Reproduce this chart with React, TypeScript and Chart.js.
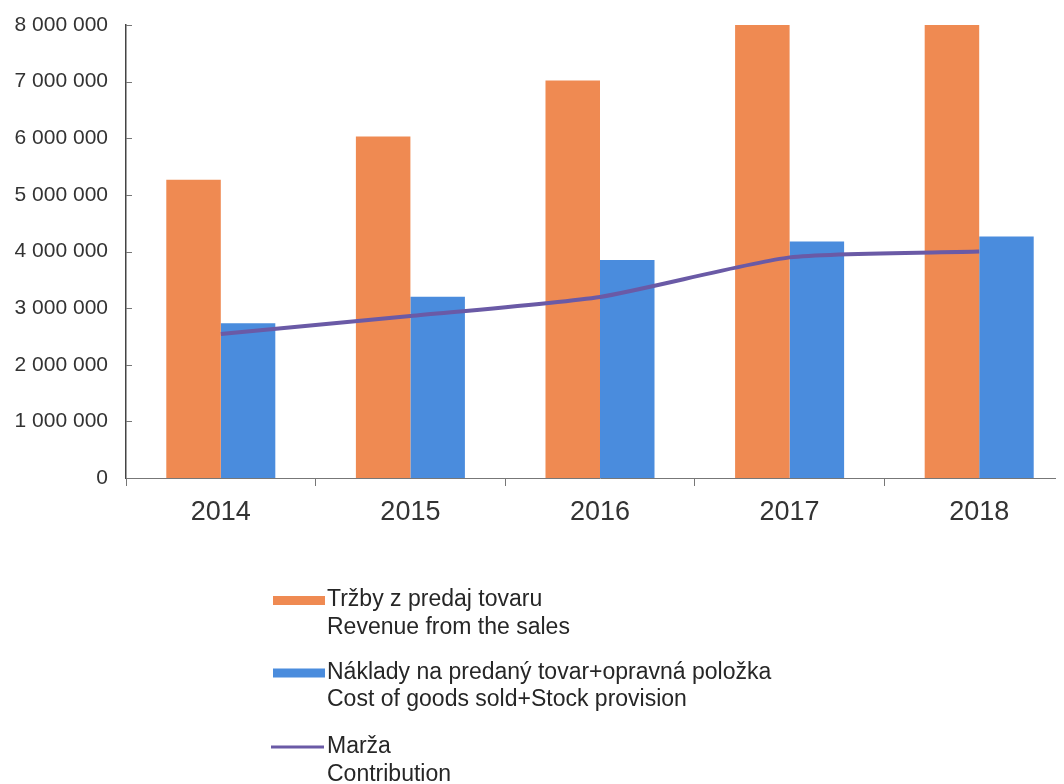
import React, { useEffect, useRef } from 'react';
import { Chart, registerables } from 'chart.js';

Chart.register(...registerables);

const categories = ['2014', '2015', '2016', '2017', '2018'];
const revenue = [5265000, 6030000, 7020000, 8000000, 8000000];
const costs = [2733000, 3203000, 3850000, 4175000, 4263000];
const contribution = [2544000, 2862000, 3198000, 3896000, 3998000];

const revenueLabel = ['Tržby z predaj tovaru', 'Revenue from the sales'];
const costsLabel = ['Náklady na predaný tovar+opravná položka', 'Cost of goods sold+Stock provision'];
const contributionLabel = ['Marža', 'Contribution'];

const yMin = 0;
const yMax = 8000000;
const yStep = 1000000;

const FONT = '"Liberation Sans", Arial, sans-serif';
const ORANGE = '#ef8a52';
const BLUE = '#4a8cdd';
const PURPLE = '#6a5aa6';

const fmt = (v: number) => String(Math.round(v)).replace(/\B(?=(\d{3})+(?!\d))/g, ' ');

const yInnerTicks = {
  id: 'yInnerTicks',
  afterDraw(chart: any) {
    const { ctx, chartArea, scales } = chart;
    const y = scales.y;
    ctx.save();
    ctx.strokeStyle = '#777';
    ctx.lineWidth = 1;
    y.ticks.forEach((t: any) => {
      const py = Math.round(y.getPixelForValue(t.value)) + 0.5;
      ctx.beginPath();
      ctx.moveTo(chartArea.left, py);
      ctx.lineTo(chartArea.left + 6, py);
      ctx.stroke();
    });
    ctx.restore();
  },
};

const multiLegend = {
  id: 'multiLegend',
  afterDraw(chart: any) {
    const { ctx, chartArea } = chart;
    const left = chartArea.left + 147;
    const baselines = [chartArea.bottom + 128, chartArea.bottom + 200.5, chartArea.bottom + 275];
    ctx.save();
    ctx.font = `23px ${FONT}`;
    ctx.textBaseline = 'alphabetic';
    chart.data.datasets.forEach((ds: any, i: number) => {
      const b = baselines[i];
      if (ds.type === 'line') {
        ctx.strokeStyle = ds.borderColor;
        ctx.lineWidth = 3;
        ctx.beginPath();
        ctx.moveTo(left - 2, b - 6);
        ctx.lineTo(left + 51, b - 6);
        ctx.stroke();
      } else {
        ctx.fillStyle = ds.backgroundColor;
        ctx.fillRect(left, b - 10, 52, 9);
      }
      ctx.fillStyle = '#262626';
      const lines: string[] = ds.legendLines;
      lines.forEach((ln, k) => {
        ctx.fillText(ln, left + 54, b + k * 27.5);
      });
    });
    ctx.restore();
  },
};

export default function App() {
  const ref = useRef<HTMLCanvasElement>(null);
  useEffect(() => {
    const chart = new Chart(ref.current!, {
      type: 'bar',
      data: {
        labels: categories,
        datasets: [
          {
            type: 'bar',
            label: revenueLabel.join(' '),
            legendLines: revenueLabel,
            data: revenue,
            backgroundColor: ORANGE,
            borderWidth: 0,
            barPercentage: 1,
            categoryPercentage: 0.575,
            order: 2,
          } as any,
          {
            type: 'bar',
            label: costsLabel.join(' '),
            legendLines: costsLabel,
            data: costs,
            backgroundColor: BLUE,
            borderWidth: 0,
            barPercentage: 1,
            categoryPercentage: 0.575,
            order: 2,
          } as any,
          {
            type: 'line',
            label: contributionLabel.join(' '),
            legendLines: contributionLabel,
            data: contribution,
            borderColor: PURPLE,
            backgroundColor: PURPLE,
            borderWidth: 4,
            pointRadius: 0,
            tension: 0.2,
            fill: false,
            order: 0,
          } as any,
        ],
      },
      options: {
        responsive: false,
        animation: false,
        devicePixelRatio: 1,
        layout: { padding: { top: 17, right: 14, bottom: 246, left: 0 } },
        plugins: {
          legend: { display: false },
          tooltip: { enabled: false },
        },
        scales: {
          x: {
            type: 'category',
            grid: {
              display: true,
              drawOnChartArea: false,
              drawTicks: true,
              tickLength: 8,
              color: '#777',
              offset: true,
            },
            border: { display: true, color: '#777', width: 1 },
            ticks: {
              font: { size: 27, family: FONT },
              color: '#333',
              padding: 10,
              maxRotation: 0,
            },
            afterFit: (s: any) => {
              s.height = 60;
              s.paddingLeft = 0;
              s.paddingRight = 0;
            },
          },
          y: {
            min: yMin,
            max: yMax,
            grid: { display: false, drawTicks: false },
            border: { display: true, color: '#444', width: 1.5 },
            ticks: {
              stepSize: yStep,
              font: { size: 21, family: FONT },
              color: '#333',
              padding: 18,
              callback: (v: any) => fmt(Number(v)),
            },
            afterFit: (s: any) => {
              s.width = 118;
              s.paddingTop = 0;
              s.paddingBottom = 0;
            },
          },
        },
      },
      plugins: [yInnerTicks, multiLegend],
    } as any);
    return () => chart.destroy();
  }, []);
  return (
    <div style={{ width: 1056, height: 776, overflow: 'hidden', position: 'relative' }}>
      <canvas ref={ref} width={1080} height={776} style={{ display: 'block', width: 1080, height: 776 }} />
    </div>
  );
}
